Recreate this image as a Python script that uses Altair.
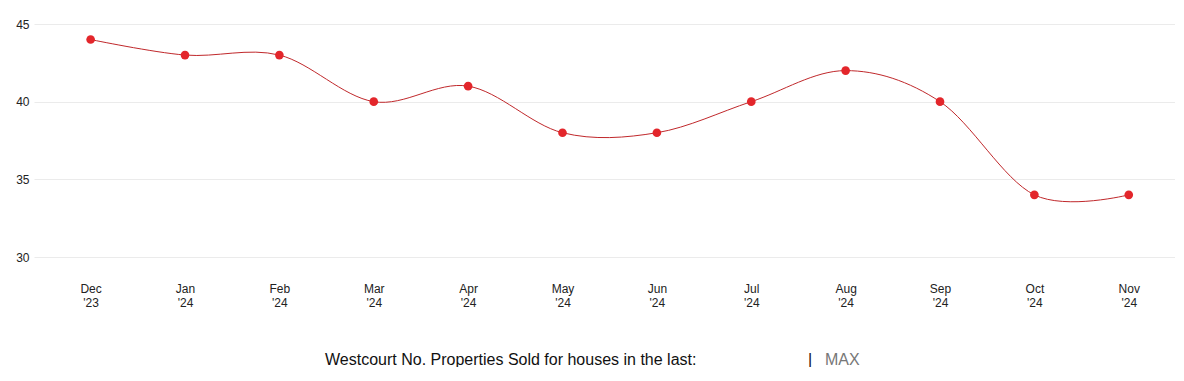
import altair as alt
import pandas as pd

months = ["Dec", "Jan", "Feb", "Mar", "Apr", "May", "Jun", "Jul", "Aug", "Sep", "Oct", "Nov"]
years = ["'23", "'24", "'24", "'24", "'24", "'24", "'24", "'24", "'24", "'24", "'24", "'24"]
sold = [44, 43, 43, 40, 41, 38, 38, 40, 42, 40, 34, 34]
y_ticks = [30, 35, 40, 45]

df = pd.DataFrame({"idx": list(range(len(months))), "month": months, "year": years, "sold": sold})

label_arr = "[" + ",".join('["%s","%s"]' % (m, y) for m, y in zip(months, years)) + "]"
label_expr = label_arr + "[datum.value]"

x_enc = alt.X(
    "idx:Q",
    scale=alt.Scale(domain=[-0.6, 11.49], nice=False, zero=False),
    axis=alt.Axis(
        values=list(range(len(months))),
        labelExpr=label_expr,
        grid=False, domain=False, ticks=False,
        labelPadding=26, labelFontSize=12, labelColor="#222",
        labelFont="Liberation Sans", labelLineHeight=14, labelBaseline="top",
        title=None,
    ),
)
y_enc = alt.Y(
    "sold:Q",
    scale=alt.Scale(domain=[30, 45], nice=False, zero=False),
    axis=alt.Axis(
        values=y_ticks, grid=True, gridColor="#ebebeb", domain=False, ticks=False,
        labelPadding=5, labelFontSize=12, labelColor="#222", labelFont="Liberation Sans",
        title=None,
    ),
)

base = alt.Chart(df)
line = base.mark_line(interpolate="cardinal", color="#c0282b", strokeWidth=1).encode(x=x_enc, y=y_enc)
pts = base.mark_circle(size=75, color="#e3262b", opacity=1).encode(x=x_enc, y=y_enc)

title_df = pd.DataFrame({"t": ["Westcourt No. Properties Sold for houses in the last:"]})
title = alt.Chart(title_df).mark_text(
    font="Liberation Sans", fontSize=16, color="#111", align="left", baseline="middle"
).encode(text="t:N", x=alt.value(291), y=alt.value(336))

bar_df = pd.DataFrame({"t": ["|"]})
bar = alt.Chart(bar_df).mark_text(
    font="Liberation Sans", fontSize=16, color="#111", align="left", baseline="middle"
).encode(text="t:N", x=alt.value(774), y=alt.value(336))

max_df = pd.DataFrame({"t": ["MAX"]})
mx = alt.Chart(max_df).mark_text(
    font="Liberation Sans", fontSize=16, color="#777", align="left", baseline="middle"
).encode(text="t:N", x=alt.value(791), y=alt.value(336))

chart = alt.layer(line, pts, title, bar, mx).properties(
    width=1141, height=233,
    autosize=alt.AutoSizeParams(type="none"),
    padding={"left": 26, "top": 16, "right": 0, "bottom": 110},
).configure_view(stroke=None)

chart.save("out.html", embed_options={"renderer": "svg", "actions": False})
